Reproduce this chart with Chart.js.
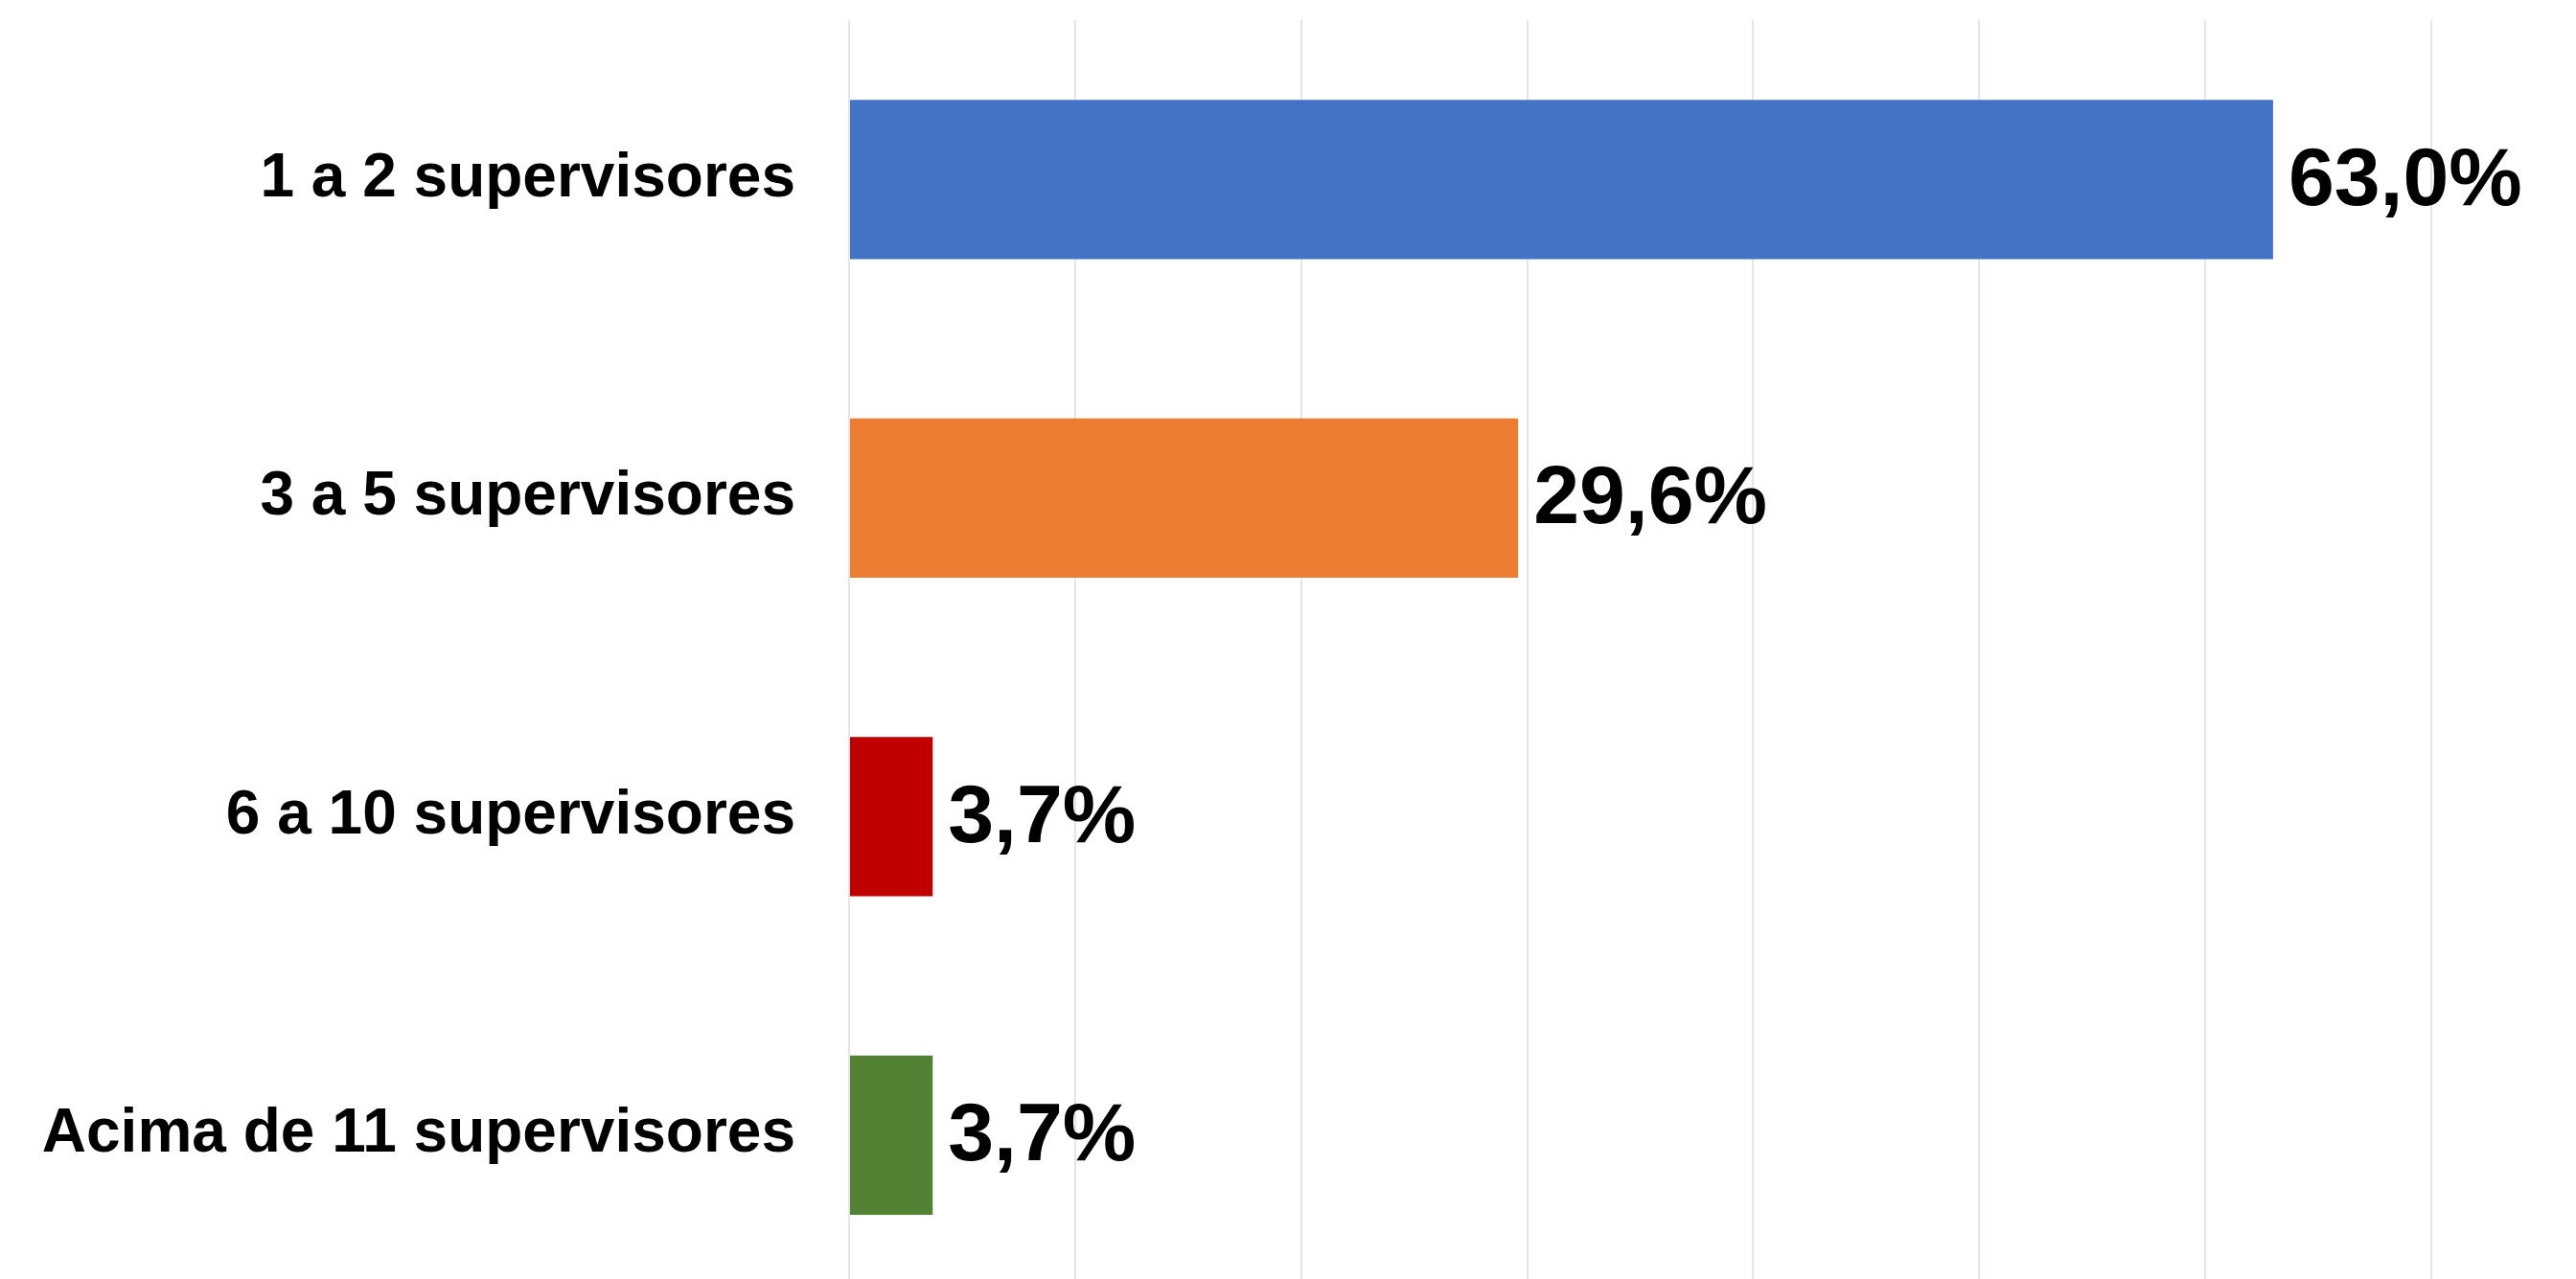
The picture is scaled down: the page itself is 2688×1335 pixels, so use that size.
<!DOCTYPE html>
<html>
<head>
<meta charset="utf-8">
<script src="https://cdn.jsdelivr.net/npm/chart.js@4.4.0/dist/chart.umd.min.js"></script>
<style>
    html, body { margin: 0; padding: 0; background: #fff; overflow: hidden; }
    #wrap { position: relative; width: 2688px; height: 1351px; }
</style>
</head>
<body>
<div id="wrap"><canvas id="supervisores-chart"></canvas></div>
<script>
const categories = [
    '1 a 2 supervisores',
    '3 a 5 supervisores',
    '6 a 10 supervisores',
    'Acima de 11 supervisores'
];
const percentages = [63.0, 29.6, 3.7, 3.7];
const barColors = ['#4472C4', '#ED7D31', '#C00000', '#548235'];

// writes the percentage just right of each bar
const valueLabels = {
    id: 'valueLabels',
    afterDatasetsDraw: function (chart) {
        const ctx = chart.ctx
        const meta = chart.getDatasetMeta(0)
        ctx.save()
        ctx.font = 'bold 86px "Liberation Sans", Arial, sans-serif'
        ctx.fillStyle = '#000'
        ctx.textAlign = 'left'
        ctx.textBaseline = 'middle'
        meta.data.forEach(function (bar, i) {
            const txt = percentages[i].toFixed(1).replace('.', ',') + '%'
            ctx.fillText(txt, bar.x + 16, bar.y + 3)
        })
        ctx.restore()
    }
};

const data = {
    labels: categories,
    datasets: [{
        data: percentages,
        backgroundColor: barColors,
        borderWidth: 0,
        barPercentage: 0.5,
        categoryPercentage: 1.0
    }]
};

const config = {
    type: 'bar',
    data: data,
    plugins: [valueLabels],
    options: {
        indexAxis: 'y',
        responsive: true,
        maintainAspectRatio: false,
        animation: false,
        layout: { padding: { top: 21, right: 151, bottom: 0, left: 0 } },
        plugins: {
            legend: { display: false },
            tooltip: { enabled: false }
        },
        scales: {
            x: {
                min: 0,
                max: 70,
                ticks: { display: false, stepSize: 10 },
                grid: { color: '#e3e6eb', lineWidth: 2, drawTicks: false },
                border: { display: false },
                afterFit: function (scale) {
                    scale.height = 0
                    scale.paddingLeft = 0
                    scale.paddingRight = 0
                }
            },
            y: {
                ticks: {
                    color: '#000',
                    padding: 56,
                    font: { family: '"Liberation Sans", Arial, sans-serif', size: 64, weight: 'bold' }
                },
                grid: { display: false, drawTicks: false },
                border: { display: false },
                afterFit: function (scale) {
                    scale.width = 886
                    scale.paddingTop = 0
                    scale.paddingBottom = 0
                }
            }
        }
    }
};

const myChart = new Chart(document.getElementById('supervisores-chart'), config);
</script>
</body>
</html>
